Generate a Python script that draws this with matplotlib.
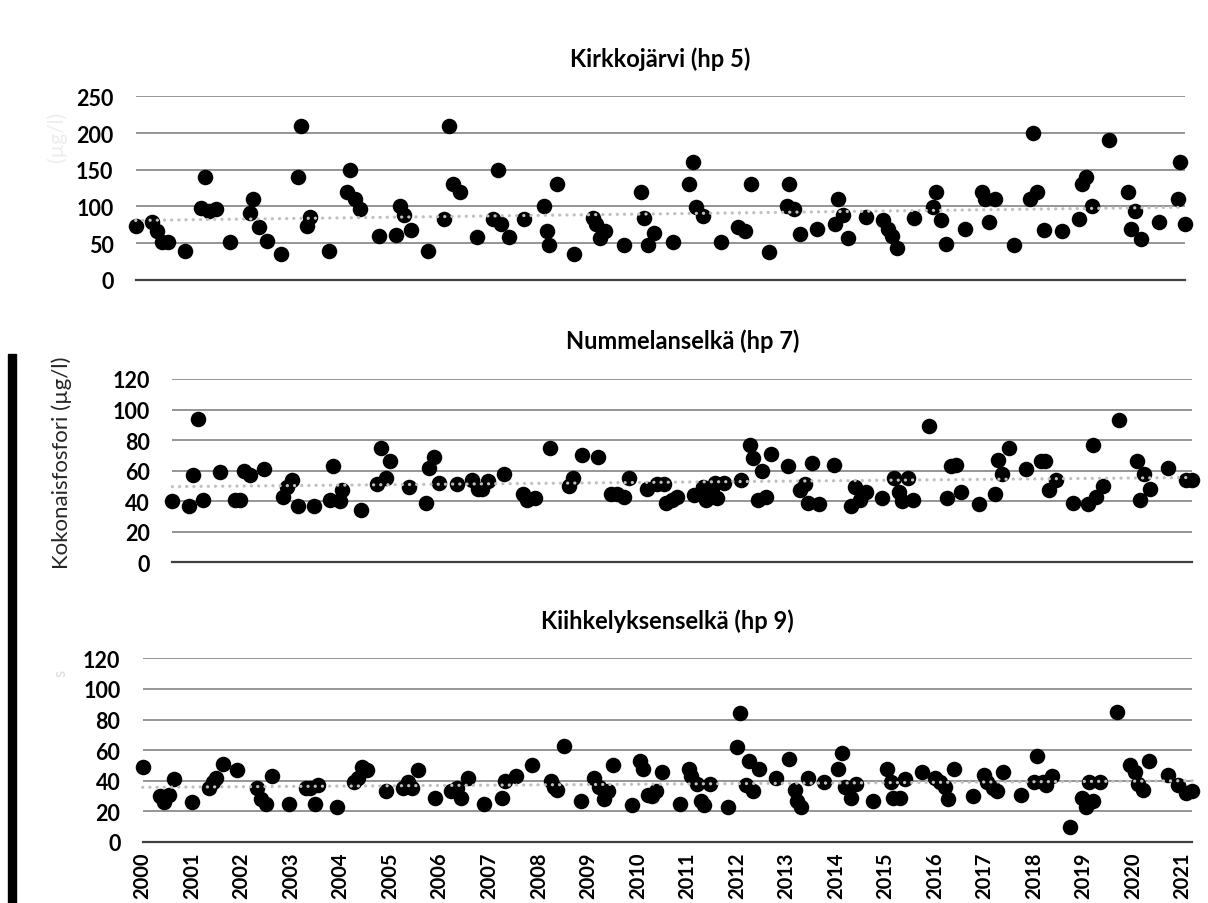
import matplotlib
matplotlib.use("Agg")
import matplotlib.pyplot as plt
from matplotlib.patches import Rectangle

# Kirkkojärvi (hp 5), sampling dates as decimal years and total phosphorus (µg/l)
kirkko_t = [2000.00, 2000.34, 2000.44, 2000.54, 2000.65, 2001.00, 2001.32, 2001.40, 2001.49, 2001.62,
            2001.91, 2002.31, 2002.38, 2002.49, 2002.66, 2002.94, 2003.29, 2003.35, 2003.47, 2003.52,
            2003.91, 2004.27, 2004.34, 2004.44, 2004.53, 2004.91, 2005.26, 2005.35, 2005.42, 2005.56,
            2005.91, 2006.23, 2006.34, 2006.42, 2006.55, 2006.90, 2007.22, 2007.33, 2007.38, 2007.54,
            2007.85, 2008.25, 2008.31, 2008.36, 2008.51, 2008.85, 2009.24, 2009.31, 2009.39, 2009.49,
            2009.87, 2010.21, 2010.27, 2010.35, 2010.48, 2010.85, 2011.18, 2011.26, 2011.33, 2011.46,
            2011.82, 2012.17, 2012.32, 2012.44, 2012.79, 2013.16, 2013.20, 2013.30, 2013.42, 2013.76,
            2014.13, 2014.19, 2014.30, 2014.39, 2014.75, 2015.10, 2015.20, 2015.29, 2015.39, 2015.72,
            2016.10, 2016.17, 2016.27, 2016.38, 2016.76, 2017.09, 2017.17, 2017.24, 2017.37, 2017.74,
            2018.07, 2018.14, 2018.22, 2018.36, 2018.72, 2019.06, 2019.12, 2019.20, 2019.33, 2019.67,
            2020.05, 2020.11, 2020.19, 2020.31, 2020.68, 2021.05, 2021.10, 2021.20]
kirkko_p = [73, 79, 67, 51, 51, 40, 98, 140, 94, 96,
            51, 91, 110, 72, 53, 35, 140, 210, 74, 86,
            40, 120, 150, 110, 97, 60, 61, 100, 88, 68,
            39, 83, 210, 130, 120, 59, 83, 150, 76, 59,
            83, 100, 66, 48, 130, 35, 84, 76, 57, 66,
            47, 120, 85, 48, 64, 51, 130, 160, 99, 87,
            51, 72, 66, 130, 38, 100, 130, 96, 62, 70,
            76, 110, 89, 57, 86, 81, 70, 60, 44, 85,
            99, 120, 82, 49, 70, 120, 110, 79, 110, 47,
            110, 200, 120, 68, 67, 83, 130, 140, 100, 190,
            120, 70, 94, 56, 79, 110, 160, 76]
kirkko_trend = [81, 99]

# Nummelanselkä (hp 7)
nummela_t = [2000.00, 2000.35, 2000.44, 2000.54, 2000.63, 2001.00, 2001.31, 2001.41, 2001.50, 2001.62,
             2001.91, 2002.31, 2002.38, 2002.49, 2002.61, 2002.95, 2003.28, 2003.35, 2003.49, 2003.53,
             2003.92, 2004.26, 2004.34, 2004.44, 2004.53, 2004.91, 2005.27, 2005.34, 2005.43, 2005.55,
             2005.91, 2006.24, 2006.36, 2006.43, 2006.56, 2006.90, 2007.28, 2007.38, 2007.53, 2007.85,
             2008.25, 2008.32, 2008.52, 2008.85, 2009.12, 2009.25, 2009.39, 2009.50, 2009.87, 2010.07,
             2010.21, 2010.26, 2010.38, 2010.48, 2010.84, 2011.03, 2011.09, 2011.21, 2011.28, 2011.33,
             2011.47, 2011.82, 2012.01, 2012.08, 2012.17, 2012.26, 2012.33, 2012.44, 2012.80, 2013.05,
             2013.15, 2013.22, 2013.29, 2013.44, 2013.76, 2014.11, 2014.19, 2014.29, 2014.41, 2014.75,
             2015.01, 2015.11, 2015.17, 2015.29, 2015.39, 2015.72, 2016.10, 2016.19, 2016.29, 2016.39,
             2016.76, 2017.09, 2017.16, 2017.25, 2017.39, 2017.74, 2018.06, 2018.13, 2018.22, 2018.36,
             2018.73, 2019.04, 2019.14, 2019.19, 2019.34, 2019.67, 2020.06, 2020.11, 2020.20, 2020.32,
             2020.69, 2021.06, 2021.20]
nummela_p = [40, 37, 57, 94, 41, 59, 41, 41, 60, 57,
             61, 43, 49.5, 54, 37, 37, 41, 63, 40, 47,
             34, 51, 75, 55, 66, 49, 39, 62, 69, 52,
             51, 54, 48, 48, 53, 58, 45, 41, 42, 75,
             50, 55, 70, 69, 45, 45, 43, 55, 48, 51,
             51, 39, 41, 43, 44, 49, 41, 46, 52, 42,
             52, 54, 77, 68, 41, 60, 43, 71, 63, 47,
             51, 39, 65, 38, 64, 37, 49.5, 41, 46, 42,
             55, 46, 40, 55, 41, 89, 42, 63, 64, 46,
             38, 45, 67, 58, 75, 61, 66, 66, 47, 54,
             39, 38, 77, 43, 50, 93, 66, 41, 58, 48,
             62, 54, 54]
nummela_trend = [49.5, 55.5]

# Kiihkelyksenselkä (hp 9)
kiihkel_t = [2000.00, 2000.35, 2000.44, 2000.54, 2000.63, 2001.00, 2001.33, 2001.43, 2001.49, 2001.63,
             2001.91, 2002.30, 2002.38, 2002.49, 2002.61, 2002.96, 2003.30, 2003.38, 2003.48, 2003.54,
             2003.93, 2004.27, 2004.34, 2004.44, 2004.54, 2004.92, 2005.26, 2005.35, 2005.43, 2005.56,
             2005.91, 2006.22, 2006.34, 2006.43, 2006.57, 2006.89, 2007.25, 2007.32, 2007.54, 2007.86,
             2008.25, 2008.31, 2008.37, 2008.52, 2008.86, 2009.12, 2009.22, 2009.32, 2009.39, 2009.49,
             2009.88, 2010.05, 2010.11, 2010.21, 2010.28, 2010.36, 2010.48, 2010.85, 2011.03, 2011.08,
             2011.19, 2011.27, 2011.34, 2011.46, 2011.82, 2012.01, 2012.07, 2012.19, 2012.25, 2012.32,
             2012.44, 2012.79, 2013.05, 2013.17, 2013.21, 2013.30, 2013.43, 2013.76, 2014.04, 2014.12,
             2014.19, 2014.30, 2014.41, 2014.75, 2015.03, 2015.12, 2015.16, 2015.30, 2015.40, 2015.74,
             2016.01, 2016.11, 2016.21, 2016.27, 2016.39, 2016.77, 2017.00, 2017.06, 2017.17, 2017.25,
             2017.37, 2017.74, 2018.01, 2018.07, 2018.19, 2018.24, 2018.36, 2018.72, 2018.97, 2019.06,
             2019.12, 2019.20, 2019.33, 2019.68, 2019.95, 2020.05, 2020.11, 2020.21, 2020.33, 2020.70,
             2020.92, 2021.08, 2021.20]
kiihkel_p = [49, 30, 26, 31, 41, 26, 35, 39, 42, 51,
             47, 35, 28, 25, 43, 25, 35, 35, 25, 37,
             23, 39, 42, 49, 47, 33, 35, 39, 35, 47,
             29, 33, 35, 29, 42, 25, 29, 40, 43, 50,
             40, 36, 34, 63, 27, 42, 36, 28, 33, 50,
             24, 53, 48, 31, 30, 33, 46, 25, 48, 43,
             38, 27, 24, 38, 23, 62, 84, 37, 53, 33,
             48, 42, 54, 34, 27, 23, 42, 39, 48, 58,
             36, 29, 38, 27, 48, 39, 29, 29, 41, 46,
             42, 39, 36, 28, 48, 30, 44, 39, 35, 33,
             46, 31, 39, 56, 39, 37, 43, 10, 29, 23,
             39, 27, 39, 85, 50, 46, 38, 34, 53, 44,
             37, 32, 33]
kiihkel_trend = [35.7, 40]

titles = ["Kirkkojärvi (hp 5)", "Nummelanselkä (hp 7)", "Kiihkelyksenselkä (hp 9)"]
y_ticks_top = [0, 50, 100, 150, 200, 250]
y_ticks_low = [0, 20, 40, 60, 80, 100, 120]
years = list(range(2000, 2022))
x_range = [2000.0, 2021.2]

plt.rcParams['font.family'] = ['Lato', 'DejaVu Sans']

fig = plt.figure(figsize=(12.08, 9.04), dpi=100)

panels = [
    ([0.1123, 0.6892, 0.8686, 0.2032], kirkko_t, kirkko_p, kirkko_trend, y_ticks_top),
    ([0.1426, 0.3769, 0.8444, 0.2028], nummela_t, nummela_p, nummela_trend, y_ticks_low),
    ([0.1181, 0.0675, 0.8689, 0.2032], kiihkel_t, kiihkel_p, kiihkel_trend, y_ticks_low),
]

for i, (rect, t, p, trend, yt) in enumerate(panels):
    ax = fig.add_axes(rect)
    ax.scatter(t, p, s=125, color='black', zorder=3, clip_on=False, linewidths=0)
    ax.plot(x_range, trend, color='#c0c0c0', lw=2.3, linestyle=(0, (0.05, 2.2)),
            dash_capstyle='round', solid_capstyle='round', zorder=4, clip_on=False)
    ax.set_xlim(x_range)
    ax.set_ylim(yt[0], yt[-1])
    ax.set_yticks(yt)
    ax.yaxis.grid(True, color='#8c8c8c', lw=1.3)
    ax.set_axisbelow(True)
    for s in ['top', 'right', 'left']:
        ax.spines[s].set_visible(False)
    ax.spines['bottom'].set_color('#404040')
    ax.spines['bottom'].set_linewidth(1.6)
    ax.tick_params(axis='y', length=0, pad=16, labelsize=15.5)
    for lab in ax.get_yticklabels():
        lab.set_fontweight('bold')
    if i == 2:
        ax.set_xticks(years)
        ax.set_xticklabels([str(y) for y in years], rotation=90, fontsize=14.5,
                           fontweight='bold')
        ax.tick_params(axis='x', length=0, pad=7)
    else:
        ax.set_xticks([])
    ax.set_title(titles[i], fontsize=17, fontweight='bold', pad=22)

fig.text(62 / 1208, 1 - 463 / 904, "Kokonaisfosfori (µg/l)", rotation=90,
         fontsize=16, color='#262626', ha='center', va='center')
# faint leftovers of hidden axis titles
fig.text(57 / 1208, 1 - 137 / 904, "(µg/l)", rotation=90, fontsize=15,
         color='#ededed', ha='center', va='center')
fig.text(60 / 1208, 1 - 673 / 904, "s", rotation=90, fontsize=12,
         color='#dcdcdc', ha='center', va='center')

# black bar along the left edge
fig.patches.append(Rectangle((8 / 1208, 0), 8 / 1208, 1 - 355 / 904,
                             transform=fig.transFigure, color='black', zorder=5))

fig.savefig("out.png", dpi=100, facecolor='white')
